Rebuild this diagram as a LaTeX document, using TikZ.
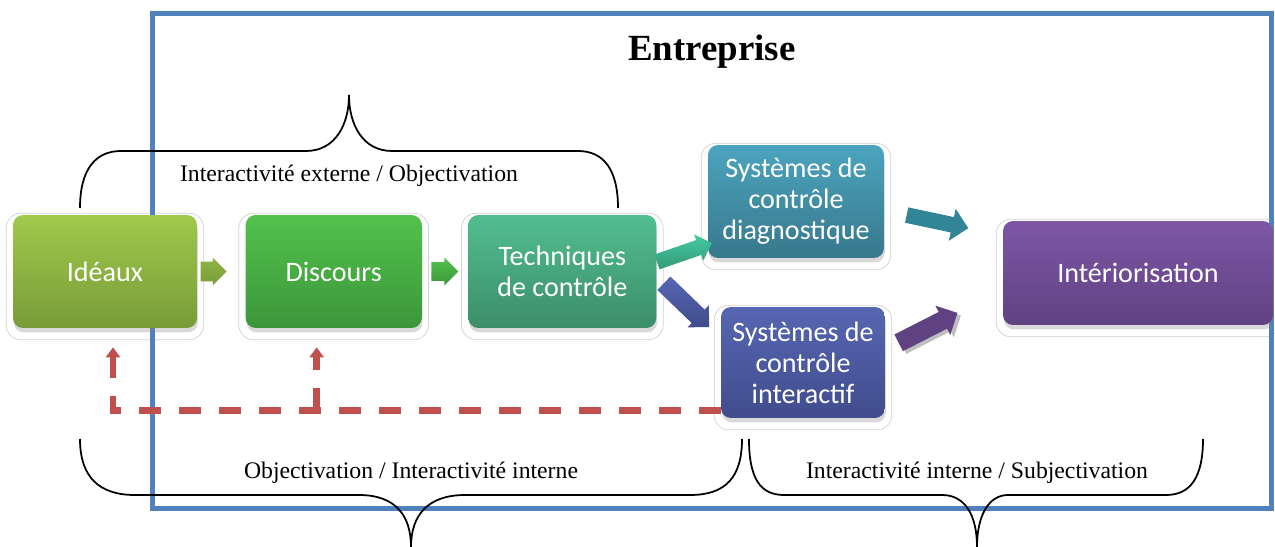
\documentclass[tikz,border=0pt]{standalone}
\usepackage{fontspec}
\setmainfont{Liberation Serif}
\newfontfamily\boxfont{Carlito}
\usepackage{tikz}
\usetikzlibrary{arrows.meta,shadows,shapes.arrows,positioning,fit,backgrounds,calc}
\definecolor{frameBlue}{RGB}{79,129,189}
\definecolor{feedRed}{RGB}{192,80,77}
\definecolor{ideauxTop}{RGB}{160,201,76}
\definecolor{ideauxBot}{RGB}{120,155,55}
\definecolor{discoursTop}{RGB}{82,194,76}
\definecolor{discoursBot}{RGB}{60,150,58}
\definecolor{techTop}{RGB}{82,190,142}
\definecolor{techBot}{RGB}{60,142,104}
\definecolor{diagTop}{RGB}{76,164,190}
\definecolor{diagBot}{RGB}{55,120,140}
\definecolor{interTop}{RGB}{86,102,178}
\definecolor{interBot}{RGB}{64,76,140}
\definecolor{interioTop}{RGB}{126,86,166}
\definecolor{interioBot}{RGB}{96,66,130}
\tikzset{
  stagebox/.style={
    rectangle, rounded corners=0.2cm, draw=none, text=white, align=center,
    font=\boxfont\fontsize{16}{17.6}\selectfont, minimum height=2.26cm, inner sep=2pt,
    drop shadow={shadow xshift=0.5pt,shadow yshift=-2.5pt,opacity=0.3}
  },
  halo/.style={rectangle, rounded corners=0.3cm, draw=black!18, line width=0.4pt,
    inner sep=0.13cm, yshift=-0.1cm},
  blockarrow/.style={single arrow, draw=none, inner xsep=0pt, anchor=tail,
    single arrow tip angle=90},
  brace/.style={line width=1pt, black},
  bracelabel/.style={font=\fontsize{13.5}{15}\selectfont, inner sep=1pt},
  feedback/.style={line width=0.13cm, feedRed, dash pattern=on 0.44cm off 0.36cm,
    -{Triangle[width=0.28cm,length=0.2cm]}, shorten >=0.38cm}
}
\begin{document}
\begin{tikzpicture}[x=0.02cm, y=-0.02cm]
  \useasboundingbox (0,0) rectangle (1275,547);
  % cadre entreprise
  \draw[frameBlue, line width=0.1cm] (152,14) rectangle (1271,508);
  \node[font=\fontsize{21}{24}\selectfont\bfseries] (titre) at (712,52) {Entreprise};

  % accolades
  \draw[brace] (80,208) .. controls (80,170) and (95,151) .. (121,151) -- (306,151)
    .. controls (335,151) and (349,125) .. (349,95)
    .. controls (349,125) and (363,151) .. (392,151) -- (578,151)
    .. controls (604,151) and (618,170) .. (618,208);
  \node[bracelabel] (lblExt) at (349,176) {Interactivité externe / Objectivation};
  \draw[brace] (80,439) .. controls (80,478) and (100,495) .. (135,495) -- (359,495)
    .. controls (395,495) and (411,515) .. (411,547)
    .. controls (411,515) and (428,495) .. (465,495) -- (690,495)
    .. controls (725,495) and (742,478) .. (742,439);
  \node[bracelabel] (lblObj) at (411,473) {Objectivation / Interactivité interne};
  \draw[brace] (749,439) .. controls (749,478) and (760,495) .. (784,495) -- (942,495)
    .. controls (965,495) and (977,515) .. (977,547)
    .. controls (977,515) and (989,495) .. (1008,495) -- (1166,495)
    .. controls (1190,495) and (1203,478) .. (1203,439);
  \node[bracelabel] (lblSub) at (977,473) {Interactivité interne / Subjectivation};

  % etapes
  \node[stagebox, top color=ideauxTop, bottom color=ideauxBot, minimum width=3.68cm]
    (ideaux) at (105,271.5) {Idéaux};
  \node[stagebox, top color=discoursTop, bottom color=discoursBot, minimum width=3.52cm,
    right=0.96cm of ideaux] (discours) {Discours};
  \node[stagebox, top color=techTop, bottom color=techBot, minimum width=3.76cm,
    right=0.92cm of discours] (techniques) {Techniques\\de contrôle};
  \node[stagebox, top color=diagTop, bottom color=diagBot, minimum width=3.52cm]
    (diagnostique) at (796,201.5) {Systèmes de\\contrôle\\diagnostique};
  \node[stagebox, top color=interTop, bottom color=interBot, minimum width=3.28cm,
    minimum height=2.22cm] (interactif) at (803,362.5) {Systèmes de\\contrôle\\interactif};
  \node[stagebox, top color=interioTop, bottom color=interioBot, minimum width=5.4cm,
    minimum height=2.08cm] (interiorisation) at (1138,273) {Intériorisation};

  \begin{scope}[on background layer]
    \foreach \n in {ideaux,discours,techniques,diagnostique,interactif,interiorisation}
      \node[halo, fit=(\n)] (halo-\n) {};
  \end{scope}

  % fleches
  \node[blockarrow, top color=ideauxTop!90!black, bottom color=ideauxBot,
    minimum height=0.52cm, inner ysep=0.19cm, single arrow head extend=0.08cm]
    (a1) at ($(ideaux.east)+(0.06cm,0)$) {};
  \node[blockarrow, top color=discoursTop, bottom color=discoursBot,
    minimum height=0.54cm, inner ysep=0.18cm, single arrow head extend=0.09cm]
    (a2) at ($(discours.east)+(0.18cm,0)$) {};
  \node[blockarrow, top color=techTop!80!cyan, bottom color=techBot!90!cyan,
    minimum height=1.16cm, inner ysep=0.15cm, single arrow head extend=0.12cm, rotate=19]
    (a3) at ($(techniques.east)+(0,0.19cm)$) {};
  \node[blockarrow, top color=interTop, bottom color=interBot,
    minimum height=1.26cm, inner ysep=0.18cm, single arrow head extend=0.12cm, rotate=-44]
    (a4) at ($(techniques.east)+(0.14cm,-0.23cm)$) {};
  \node[blockarrow, fill=diagBot!90!cyan,
    minimum height=1.26cm, inner ysep=0.15cm, single arrow head extend=0.17cm, rotate=-12]
    (a5) at ($(diagnostique.east)+(0.44cm,-0.27cm)$) {};
  \node[blockarrow, fill=interioBot,
    drop shadow={shadow xshift=2pt,shadow yshift=-1.5pt,opacity=0.5},
    minimum height=1.32cm, inner ysep=0.18cm, single arrow head extend=0.14cm, rotate=27]
    (a6) at ($(interactif.east)+(0.26cm,0.39cm)$) {};

  % retour
  \coordinate (fb) at ($(interactif.south west)+(0,0.16cm)$);
  \draw[feedback] (fb) -| ($(ideaux.south)+(0.16cm,0)$);
  \draw[feedback] (discours.south |- fb) ++(-0.34cm,0) coordinate (fbd)
    -- (fbd |- discours.south);
\end{tikzpicture}
\end{document}
